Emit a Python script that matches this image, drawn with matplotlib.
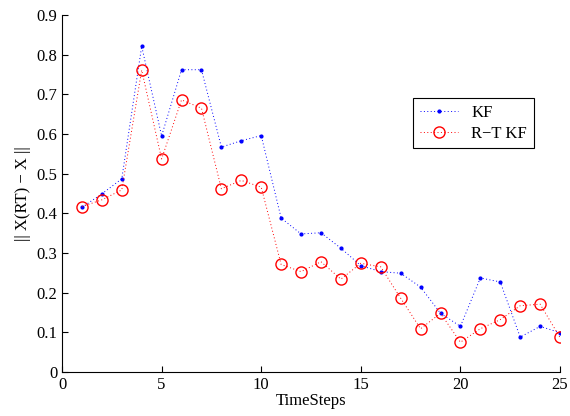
import numpy as np
import matplotlib
matplotlib.use("Agg")
import matplotlib.pyplot as plt

steps = list(range(1, 26))
kf = [0.415, 0.449, 0.487, 0.821, 0.595, 0.762, 0.762, 0.567, 0.583, 0.596,
      0.388, 0.348, 0.351, 0.312, 0.268, 0.253, 0.249, 0.214, 0.148, 0.115,
      0.237, 0.227, 0.088, 0.115, 0.099]
rt_kf = [0.417, 0.434, 0.459, 0.761, 0.537, 0.686, 0.665, 0.462, 0.483, 0.466,
         0.271, 0.253, 0.278, 0.234, 0.274, 0.265, 0.186, 0.109, 0.148, 0.075,
         0.109, 0.132, 0.167, 0.171, 0.087]

plt.rcParams['font.family'] = ['Liberation Serif', 'DejaVu Serif']

fig = plt.figure(figsize=[5.7, 4.16], dpi=100)
ax = fig.add_axes([0.1088, 0.1058, 0.8737, 0.8582])

ax.plot(steps, kf, color='b', ls=(0, (1, 2.5)), marker='.', markersize=4,
        lw=0.7, label='KF')
ax.plot(steps, rt_kf, color='r', ls=(0, (1, 2.5)), marker='o', markersize=8,
        mfc='none', mew=1.0, lw=0.7, label='R\u2212T KF')

ax.set_xlim(0, 25)
ax.set_ylim(0, 0.9)
ax.set_xticks([0, 5, 10, 15, 20, 25])
ax.set_yticks(np.arange(0, 0.91, 0.1))
ax.set_yticklabels(['0', '0.1', '0.2', '0.3', '0.4', '0.5', '0.6', '0.7', '0.8', '0.9'])
ax.tick_params(direction='in', length=4, labelsize=12, width=0.8)
ax.spines['top'].set_visible(False)
ax.spines['right'].set_visible(False)

ax.set_xlabel('TimeSteps', fontsize=12, labelpad=0)
ax.set_ylabel('|| X(RT) \u2212 X ||', fontsize=12, labelpad=4)

leg = ax.legend(loc='upper left', bbox_to_anchor=(0.705, 0.7675), fontsize=12,
                fancybox=False, edgecolor='k', framealpha=1, handlelength=2.3,
                borderpad=0.4, labelspacing=0.3, borderaxespad=0)
leg.get_frame().set_linewidth(0.8)

fig.savefig('out.png', dpi=100)
